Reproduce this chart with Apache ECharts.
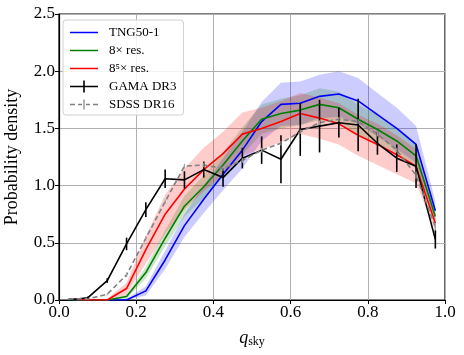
<!DOCTYPE html>
<html>
<head>
<meta charset="UTF-8"/>
<script src="https://cdn.jsdelivr.net/npm/echarts@6/dist/echarts.min.js"></script>
<title>q_sky</title>
<style>
  html, body { margin: 0; padding: 0; background: #fff; }
  #main { width: 464px; height: 355px; }
</style>
</head>
<body>
<div id="main"></div>
<script>
// bin centres of q_sky
var qBins = [0.025, 0.075, 0.125, 0.175, 0.225, 0.275, 0.325, 0.375, 0.425, 0.475,
             0.525, 0.575, 0.625, 0.675, 0.725, 0.775, 0.825, 0.875, 0.925, 0.975];

var tng = [0, 0, 0, 0, 0.08, 0.35, 0.65, 0.88, 1.10, 1.31, 1.56, 1.71, 1.72, 1.78, 1.80, 1.74, 1.62, 1.50, 1.36, 0.78];
var tngSd = [0, 0, 0, 0.01, 0.04, 0.08, 0.10, 0.12, 0.14, 0.16, 0.17, 0.19, 0.19, 0.19, 0.20, 0.20, 0.19, 0.18, 0.16, 0.08];

var res8 = [0, 0, 0, 0.03, 0.24, 0.54, 0.82, 0.99, 1.18, 1.39, 1.58, 1.63, 1.66, 1.71, 1.68, 1.58, 1.49, 1.39, 1.26, 0.73];
var res8Sd = [0, 0, 0, 0.02, 0.05, 0.07, 0.09, 0.10, 0.11, 0.12, 0.13, 0.13, 0.13, 0.14, 0.14, 0.13, 0.13, 0.12, 0.11, 0.06];

var res85 = [0.01, 0, 0, 0.10, 0.44, 0.75, 0.97, 1.14, 1.28, 1.45, 1.50, 1.56, 1.63, 1.59, 1.54, 1.44, 1.36, 1.27, 1.17, 0.67];
var res85Sd = [0.01, 0.01, 0.01, 0.05, 0.12, 0.17, 0.18, 0.19, 0.19, 0.19, 0.18, 0.18, 0.18, 0.18, 0.18, 0.18, 0.18, 0.17, 0.15, 0.07];

var gama = [0, 0.02, 0.17, 0.49, 0.79, 1.06, 1.05, 1.14, 1.07, 1.24, 1.31, 1.23, 1.49, 1.52, 1.55, 1.53, 1.37, 1.24, 1.17, 0.53];
var gamaErr = [0, 0.01, 0.02, 0.055, 0.065, 0.08, 0.075, 0.07, 0.08, 0.09, 0.12, 0.21, 0.23, 0.23, 0.13, 0.23, 0.10, 0.12, 0.19, 0.08];

var sdss = [0.01, 0.01, 0.05, 0.22, 0.54, 0.86, 1.17, 1.18, 1.15, 1.22, 1.31, 1.37, 1.47, 1.55, 1.58, 1.56, 1.45, 1.31, 1.09, 0.64];
var sdssErr = [0.005, 0.005, 0.01, 0.02, 0.02, 0.02, 0.02, 0.02, 0.02, 0.02, 0.02, 0.02, 0.02, 0.02, 0.02, 0.02, 0.02, 0.02, 0.03, 0.03];

var serif = 'Liberation Serif';

function pairs(ys) {
    return qBins.map(function (x, i) { return [x, ys[i]]; });
}

// shaded band drawn as one polygon from the scale
function band(mean, sd, fill) {
    return {
        type: 'custom',
        silent: true,
        z: 1,
        clip: true,
        data: pairs(mean),
        renderItem: function (params, api) {
            if (params.dataIndex !== 0) return;
            var pts = [];
            for (var i = 0; i < qBins.length; i++) pts.push(api.coord([qBins[i], mean[i] + sd[i]]));
            for (var j = qBins.length - 1; j >= 0; j--) pts.push(api.coord([qBins[j], Math.max(0, mean[j] - sd[j])]));
            return { type: 'polygon', shape: { points: pts }, style: { fill: fill } };
        }
    };
}

function errBars(name, mean, err, color, width) {
    return {
        name: name,
        type: 'custom',
        z: 4,
        itemStyle: { color: color },
        data: qBins.map(function (x, i) { return [x, mean[i] - err[i], mean[i] + err[i]]; }),
        renderItem: function (params, api) {
            var a = api.coord([api.value(0), api.value(1)]);
            var b = api.coord([api.value(0), api.value(2)]);
            return { type: 'line', shape: { x1: a[0], y1: a[1], x2: b[0], y2: b[1] },
                     style: { stroke: color, lineWidth: width } };
        }
    };
}

function line(name, ys, color, dashed) {
    return {
        name: name,
        type: 'line',
        z: 3,
        data: pairs(ys),
        symbol: 'none',
        itemStyle: { color: color },
        lineStyle: { color: color, width: 1.6, type: dashed ? [5, 3] : 'solid' }
    };
}

// invisible corner points keep the icon box at 34x12 so the drawn part sits at the left
var pad = 'M0,0L0.01,0Z M34,12L34.01,12Z ';
var iconLine = 'path://' + pad + 'M0,5.3H28V6.7H0Z';
var iconCross = 'path://' + pad + 'M0,5.2H28V6.8H0Z M13.2,0H14.8V12H13.2Z';
var iconDashCross = 'path://' + pad + 'M0,5.3H5V6.7H0Z M8,5.3H12V6.7H8Z M16,5.3H20V6.7H16Z M23,5.3H28V6.7H23Z M13.4,1H14.6V11H13.4Z';

var myChart = echarts.init(document.getElementById('main'));

var option = {
    animation: false,
    backgroundColor: '#fff',
    textStyle: { fontFamily: serif },
    grid: { left: 59, right: 19, top: 14, bottom: 55, show: true, borderColor: '#000', borderWidth: 1.2,
            outerBoundsMode: 'none' },
    legend: {
        orient: 'vertical',
        left: 63,
        top: 20,
        padding: [6, 7, 4, 7],
        itemGap: 5,
        itemWidth: 34,
        itemHeight: 13,
        backgroundColor: 'rgba(255,255,255,0.85)',
        borderColor: '#d0d0d0',
        borderWidth: 1,
        borderRadius: 3,
        textStyle: { fontFamily: serif, fontSize: 13, color: '#000' },
        data: [
            { name: 'TNG50-1', icon: iconLine },
            { name: '8× res.', icon: iconLine },
            { name: '8⁵× res.', icon: iconLine },
            { name: 'GAMA DR3', icon: iconCross },
            { name: 'SDSS DR16', icon: iconDashCross }
        ]
    },
    xAxis: {
        type: 'value',
        min: 0, max: 1, interval: 0.2,
        name: '{i|q}{s|sky}',
        nameLocation: 'middle',
        nameGap: 28,
        nameTextStyle: {
            rich: {
                i: { fontFamily: serif, fontStyle: 'italic', fontSize: 18, color: '#000' },
                s: { fontFamily: serif, fontSize: 12, color: '#000', padding: [8, 0, 0, 0] }
            }
        },
        axisLine: { lineStyle: { color: '#000', width: 1.2 } },
        axisTick: { show: true, length: 4, lineStyle: { color: '#000' } },
        axisLabel: { fontFamily: serif, fontSize: 17, color: '#000', margin: 4,
                     formatter: function (v) { return v.toFixed(1); } },
        splitLine: { show: true, lineStyle: { color: '#b0b0b0', width: 1 } }
    },
    yAxis: {
        type: 'value',
        min: 0, max: 2.5, interval: 0.5,
        name: 'Probability density',
        nameLocation: 'middle',
        nameGap: 38,
        nameTextStyle: { fontFamily: serif, fontSize: 18, color: '#000' },
        axisLine: { show: true, lineStyle: { color: '#000', width: 1.2 } },
        axisTick: { show: true, length: 4, lineStyle: { color: '#000' } },
        axisLabel: { fontFamily: serif, fontSize: 17, color: '#000', margin: 4,
                     formatter: function (v) { return v.toFixed(1); } },
        splitLine: { show: true, lineStyle: { color: '#b0b0b0', width: 1 } }
    },
    series: [
        band(tng, tngSd, 'rgba(0,0,255,0.2)'),
        band(res8, res8Sd, 'rgba(0,128,0,0.2)'),
        band(res85, res85Sd, 'rgba(255,0,0,0.2)'),
        line('TNG50-1', tng, '#0000ff', false),
        line('8× res.', res8, '#008000', false),
        line('8⁵× res.', res85, '#ff0000', false),
        line('GAMA DR3', gama, '#000000', false),
        errBars('GAMA DR3', gama, gamaErr, '#000000', 1.6),
        line('SDSS DR16', sdss, '#808080', true),
        errBars('SDSS DR16', sdss, sdssErr, '#a0a0a0', 1.2)
    ]
};

myChart.setOption(option);
</script>
</body>
</html>
